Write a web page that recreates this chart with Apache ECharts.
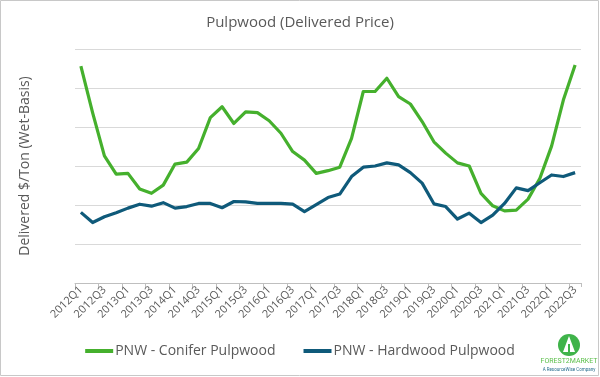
<!DOCTYPE html>
<html>
<head>
<meta charset="utf-8">
<script src="https://cdn.jsdelivr.net/npm/echarts@6/dist/echarts.min.js"></script>
<style>
  html, body { margin: 0; padding: 0; background: #fff; }
  #chart { width: 600px; height: 377px; }
</style>
</head>
<body>
<div id="chart"></div>
<script>
// quarters 2012Q1 .. 2022Q3
var quarters = [];
for (var yr = 2012; yr <= 2022; yr++) {
    for (var q = 1; q <= 4; q++) {
        if (yr === 2022 && q > 3) break;
        quarters.push(yr + 'Q' + q);
    }
}

// (no axis labels in the original, relative units)
var conifer = [
    55.6, 43.6, 32.6, 27.9, 28.1, 24.1, 23.0, 25.1, 30.5, 31.0,
    34.5, 42.4, 45.2, 40.9, 43.9, 43.7, 41.6, 38.4, 33.7, 31.5,
    28.1, 28.8, 29.7, 37.1, 49.1, 49.1, 52.5, 47.8, 45.9, 41.4,
    36.2, 33.3, 30.8, 30.0, 23.0, 19.8, 18.5, 18.7, 21.5, 26.8,
    35.1, 46.9, 55.9
];
var hardwood = [
    18.1, 15.5, 17.0, 18.0, 19.2, 20.2, 19.7, 20.6, 19.2, 19.6,
    20.4, 20.4, 19.3, 20.9, 20.8, 20.4, 20.4, 20.4, 20.2, 18.3,
    20.1, 21.9, 22.8, 27.3, 29.7, 30.0, 30.8, 30.3, 28.3, 25.6,
    20.3, 19.6, 16.4, 17.9, 15.5, 17.4, 20.4, 24.4, 23.7, 25.7,
    27.7, 27.3, 28.3
];

var textColor = '#595959';
var green = '#45b02d';
var blue = '#0f5a7a';

var myChart = echarts.init(document.getElementById('chart'));

var option = {
    backgroundColor: '#fff',
    animation: false,
    title: {
        text: 'Pulpwood (Delivered Price)',
        left: 'center',
        top: 10,
        textStyle: { color: textColor, fontSize: 15, fontWeight: 'normal', fontFamily: 'Open Sans' }
    },
    grid: { left: 75, right: 19, top: 49, bottom: 94 },
    legend: {
        bottom: 14,
        left: 'center',
        icon: 'rect',
        itemWidth: 28,
        itemHeight: 4,
        itemGap: 28,
        textStyle: { color: textColor, fontSize: 14, fontFamily: 'Open Sans', padding: [0, 0, 0, -3] },
        data: ['PNW - Conifer Pulpwood', 'PNW - Hardwood Pulpwood']
    },
    xAxis: {
        type: 'category',
        data: quarters,
        axisLine: { lineStyle: { color: '#bfbfbf' } },
        axisTick: { show: true, length: 4, lineStyle: { color: '#bfbfbf' } },
        axisLabel: {
            interval: 1,
            rotate: 45,
            color: textColor,
            fontSize: 11,
            fontFamily: 'Open Sans',
            margin: 5
        }
    },
    yAxis: {
        type: 'value',
        min: 0,
        max: 60,
        interval: 10,
        name: 'Delivered $/Ton (Wet-Basis)',
        nameLocation: 'middle',
        nameGap: 43,
        nameTextStyle: { color: textColor, fontSize: 14, fontFamily: 'Open Sans' },
        axisLabel: { show: false },
        axisLine: { show: false },
        axisTick: { show: false },
        splitLine: { lineStyle: { color: '#d9d9d9', width: 1 } }
    },
    series: [{
        name: 'PNW - Conifer Pulpwood',
        type: 'line',
        data: conifer,
        symbol: 'none',
        lineStyle: { color: green, width: 3.2, join: 'round' },
        itemStyle: { color: green }
    }, {
        name: 'PNW - Hardwood Pulpwood',
        type: 'line',
        data: hardwood,
        symbol: 'none',
        lineStyle: { color: blue, width: 3.2, join: 'round' },
        itemStyle: { color: blue }
    }],
    graphic: [{
        type: 'rect',
        shape: { x: 0.5, y: 0.5, width: 598, height: 375 },
        style: { fill: 'none', stroke: '#c8c8c8', lineWidth: 1 },
        silent: true
    }, {
        type: 'circle',
        shape: { cx: 569, cy: 345, r: 11 },
        style: { fill: '#3fb34a' }
    }, {
        type: 'polygon',
        shape: { points: [[569, 336], [563, 352], [575, 352]] },
        style: { fill: '#fff' }
    }, {
        type: 'rect',
        shape: { x: 568, y: 344, width: 2, height: 10 },
        style: { fill: '#3fb34a' }
    }, {
        type: 'text',
        style: {
            text: 'FOREST2MARKET', x: 569, y: 361, align: 'center', verticalAlign: 'middle',
            fill: '#5bbf4a', fontSize: 7, fontFamily: 'Roboto'
        }
    }, {
        type: 'text',
        style: {
            text: 'A ResourceWise Company', x: 569, y: 370, align: 'center', verticalAlign: 'middle',
            fill: '#2a6f8f', fontSize: 4.5, fontFamily: 'Roboto'
        }
    }]
};

myChart.setOption(option);
</script>
</body>
</html>
